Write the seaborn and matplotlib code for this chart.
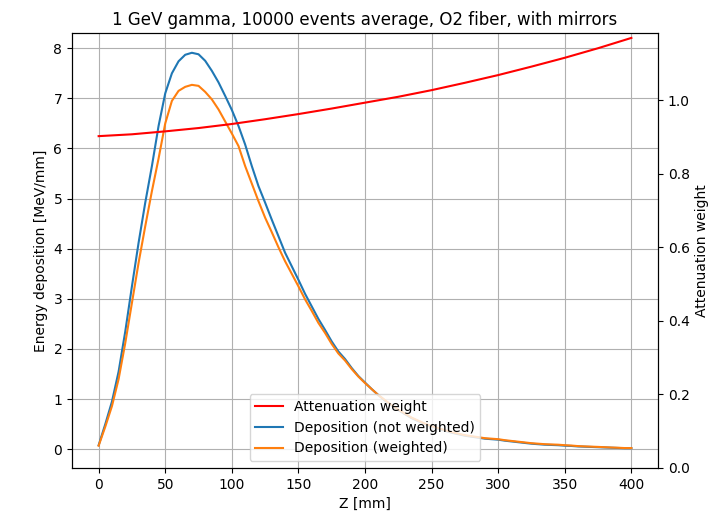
import numpy as np
import pandas as pd
import matplotlib
matplotlib.use("Agg")
import matplotlib.pyplot as plt
import seaborn as sns

# ---- data ----
z_mm = list(range(0, 401, 5))
dep_not_weighted = [
    0.08, 0.50, 0.95, 1.55, 2.35, 3.25, 4.12, 4.92, 5.65, 6.45,
    7.10, 7.50, 7.74, 7.87, 7.91, 7.88, 7.75, 7.55, 7.32, 7.05,
    6.77, 6.45, 6.08, 5.65, 5.25, 4.92, 4.58, 4.25, 3.92, 3.65,
    3.38, 3.10, 2.85, 2.60, 2.38, 2.15, 1.95, 1.80, 1.62, 1.46,
    1.33, 1.20, 1.08, 0.97, 0.87, 0.78, 0.70, 0.62, 0.56, 0.50,
    0.45, 0.41, 0.37, 0.33, 0.30, 0.27, 0.25, 0.23, 0.21, 0.20,
    0.19, 0.17, 0.155, 0.14, 0.125, 0.11, 0.10, 0.09, 0.085, 0.08,
    0.07, 0.065, 0.055, 0.05, 0.045, 0.04, 0.035, 0.03, 0.025, 0.02,
    0.02,
]
dep_weighted = [
    0.07, 0.45, 0.86, 1.40, 2.12, 2.92, 3.72, 4.45, 5.15, 5.80,
    6.50, 6.95, 7.15, 7.23, 7.27, 7.25, 7.13, 6.98, 6.78, 6.54,
    6.30, 6.05, 5.65, 5.30, 4.95, 4.62, 4.33, 4.03, 3.75, 3.50,
    3.25, 2.99, 2.76, 2.52, 2.32, 2.10, 1.91, 1.77, 1.60, 1.45,
    1.32, 1.20, 1.08, 0.98, 0.88, 0.79, 0.71, 0.63, 0.57, 0.51,
    0.46, 0.42, 0.38, 0.34, 0.31, 0.28, 0.26, 0.24, 0.22, 0.21,
    0.20, 0.18, 0.165, 0.15, 0.135, 0.12, 0.11, 0.10, 0.095, 0.09,
    0.08, 0.073, 0.062, 0.056, 0.051, 0.046, 0.040, 0.034, 0.029, 0.023,
    0.023,
]
z_weight = [0, 25, 50, 75, 100, 125, 150, 175, 200, 225, 250, 275, 300, 325, 350, 375, 400]
att_weight = [0.902, 0.907, 0.915, 0.924, 0.935, 0.948, 0.962, 0.977, 0.993,
              1.009, 1.027, 1.047, 1.068, 1.091, 1.115, 1.141, 1.169]

title = "1 GeV gamma, 10000 events average, O2 fiber, with mirrors"
labels = ["Attenuation weight", "Deposition (not weighted)", "Deposition (weighted)"]

dep_df = pd.DataFrame({"z": z_mm, "nw": dep_not_weighted, "w": dep_weighted})
w_df = pd.DataFrame({"z": z_weight, "weight": att_weight})

fig = plt.figure(figsize=(7.15, 5.23), dpi=100)
ax = fig.add_axes([0.1007, 0.1052, 0.8196, 0.8317])

sns.lineplot(data=dep_df, x="z", y="nw", ax=ax, color="#1f77b4", linewidth=1.5)
sns.lineplot(data=dep_df, x="z", y="w", ax=ax, color="#ff7f0e", linewidth=1.5)
ax.grid(True, color="#b0b0b0", linewidth=0.8)
ax.set_axisbelow(True)
ax.set_xlabel("Z [mm]")
ax.set_ylabel("Energy deposition [MeV/mm]")
ax.set_title(title, fontsize=12)
ax.set_xticks(range(0, 401, 50))
ax.set_yticks(range(0, 9))

ax2 = ax.twinx()
sns.lineplot(data=w_df, x="z", y="weight", ax=ax2, color="red", linewidth=1.5)
ax2.set_ylim(bottom=0)
ax2.set_ylabel("Attenuation weight")
ax2.set_yticks([0.0, 0.2, 0.4, 0.6, 0.8, 1.0])

handles = [ax2.lines[0], ax.lines[0], ax.lines[1]]
ax2.legend(handles, labels, loc="lower center", fontsize=10)

fig.savefig("out.png", dpi=100)
